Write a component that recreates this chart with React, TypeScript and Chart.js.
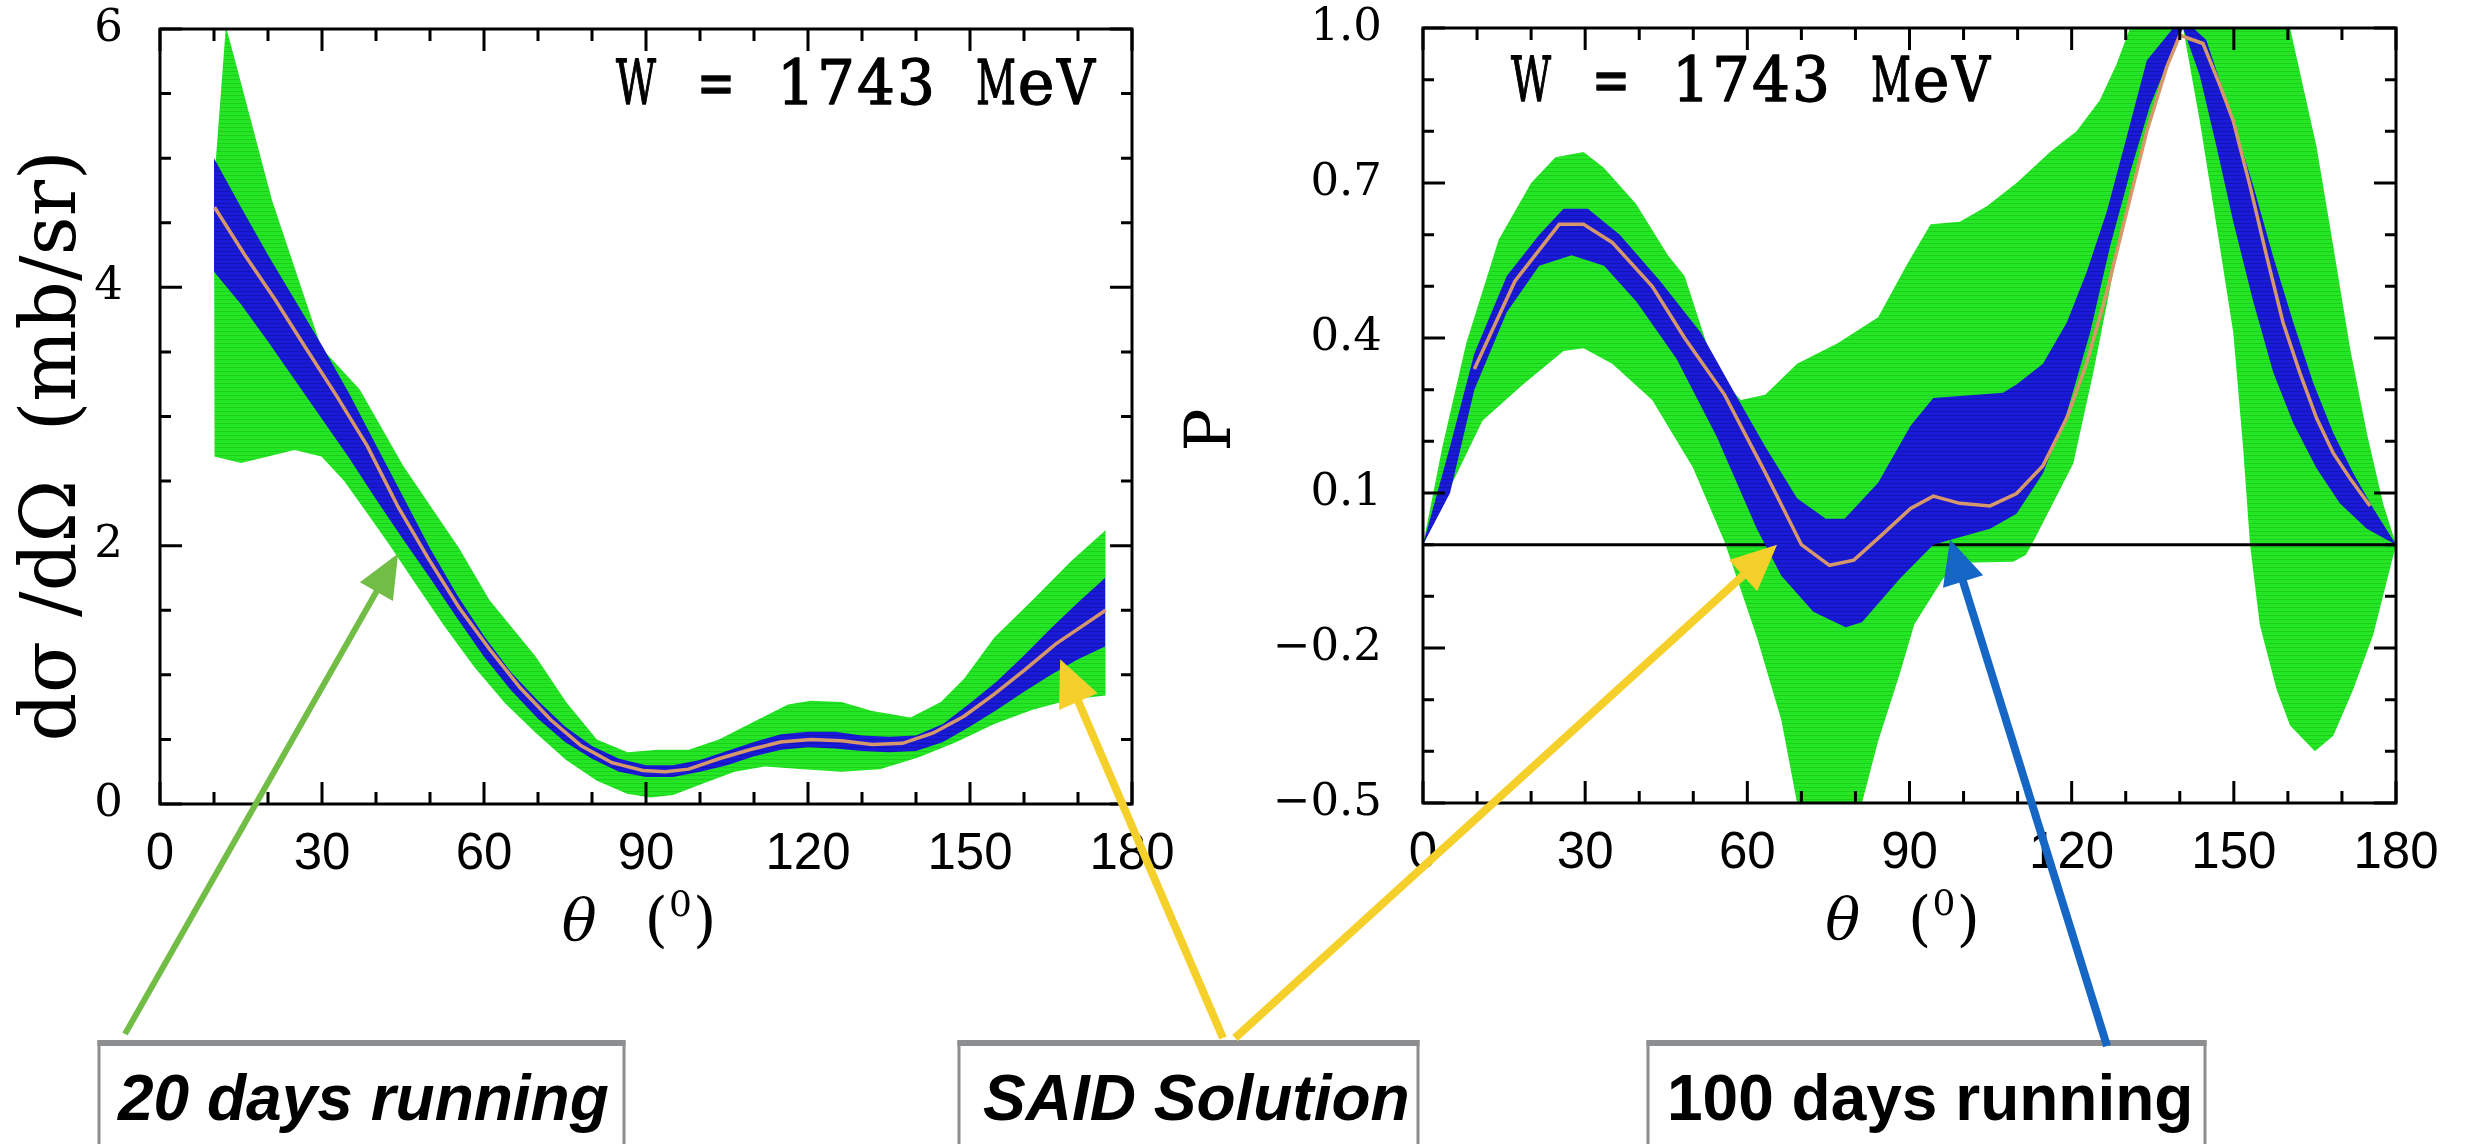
import React, { useEffect, useRef } from 'react';
import { Chart, registerables } from 'chart.js';

Chart.register(...registerables);

const PAGE_W = 2466;
const PAGE_H = 1144;

const SERIF = '"DejaVu Serif", serif';
const SANS = '"Liberation Sans", Arial, sans-serif';

// ---------- axis ticks ----------
const thetaTicks = [0, 30, 60, 90, 120, 150, 180];
const leftYTicks = [0, 2, 4, 6];
const rightYTicks = [-0.5, -0.2, 0.1, 0.4, 0.7, 1.0];

// ---------- left panel: dσ/dΩ, W = 1743 MeV ----------
const leftSaidTheta = [10.1, 15.7, 21.4, 27, 32.7, 38.4, 44.1, 49.7, 55.4, 61, 66.7, 72.4, 78, 83.7, 89.4, 93.6, 97.9, 103.5, 109.2, 114.9, 120.5, 126.2, 131.9, 137.5, 143.2, 148.9, 154.5, 160.2, 165.9, 171.6, 175.1];
const leftSaidValue = [4.62, 4.25, 3.9, 3.53, 3.16, 2.77, 2.3, 1.9, 1.52, 1.2, 0.9, 0.65, 0.45, 0.32, 0.26, 0.25, 0.27, 0.35, 0.42, 0.48, 0.5, 0.49, 0.46, 0.47, 0.55, 0.68, 0.85, 1.04, 1.24, 1.4, 1.5];

const leftBlueTheta = [10, 15, 20, 25, 30, 35, 40, 45, 50, 55, 60, 65, 70, 75, 80, 85, 90, 95, 100, 105, 110, 115, 120, 125, 130, 135, 140, 145, 150, 155, 160, 165, 170, 175];
const leftBlueUpper = [5.0, 4.62, 4.25, 3.9, 3.55, 3.18, 2.78, 2.38, 1.98, 1.62, 1.3, 1.02, 0.8, 0.6, 0.45, 0.35, 0.3, 0.3, 0.34, 0.41, 0.48, 0.54, 0.56, 0.56, 0.53, 0.52, 0.53, 0.62, 0.78, 0.95, 1.15, 1.36, 1.56, 1.75];
const leftBlueLower = [4.12, 3.87, 3.58, 3.28, 2.98, 2.68, 2.36, 2.05, 1.75, 1.44, 1.14, 0.88, 0.66, 0.48, 0.35, 0.25, 0.21, 0.21, 0.25, 0.3, 0.37, 0.42, 0.44, 0.43, 0.41, 0.4, 0.41, 0.48, 0.6, 0.73, 0.87, 1.0, 1.12, 1.22];

const leftGreenUpperTheta = [10, 12.2, 14.2, 20.7, 29.9, 37, 45, 49.7, 55.4, 61, 69.6, 75.2, 80.9, 86.6, 92.2, 97.9, 103.5, 110.6, 116.3, 120.5, 126.2, 131.9, 139, 144.6, 148.9, 154.5, 161.6, 168.7, 175.1];
const leftGreenUpper = [4.8, 6.02, 5.71, 4.68, 3.53, 3.21, 2.62, 2.33, 1.98, 1.58, 1.14, 0.79, 0.5, 0.4, 0.42, 0.42, 0.5, 0.65, 0.77, 0.8, 0.79, 0.72, 0.67, 0.79, 0.97, 1.29, 1.58, 1.88, 2.12];
const leftGreenLowerTheta = [10.1, 15, 20, 24.9, 29.9, 34.1, 38.4, 42.6, 46.9, 52.6, 58.2, 63.9, 69.6, 75.2, 80.9, 86.5, 90.8, 95, 100.7, 106.4, 112, 119.1, 126.2, 133.3, 140.4, 147.5, 154.5, 161.6, 168.7, 175.1];
const leftGreenLower = [2.69, 2.64, 2.69, 2.74, 2.69, 2.5, 2.25, 2.0, 1.73, 1.38, 1.06, 0.78, 0.55, 0.34, 0.18, 0.08, 0.05, 0.07, 0.16, 0.25, 0.29, 0.27, 0.25, 0.27, 0.36, 0.48, 0.62, 0.73, 0.81, 0.84];

// ---------- right panel: P, W = 1743 MeV ----------
const rightSaidTheta = [9.5, 17, 25.2, 29.7, 35, 42.4, 48.4, 55.8, 63.3, 70, 75.2, 79.7, 85, 90.2, 94.4, 99.3, 104.9, 109.8, 114.7, 119.1, 122.8, 126.5, 130.2, 133.9, 137.6, 140, 144.3, 147.4, 149.9, 153, 156.1, 159.1, 162.2, 165.3, 168.4, 171.5, 175.2];
const rightSaidValue = [0.34, 0.51, 0.62, 0.62, 0.585, 0.5, 0.4, 0.29, 0.14, 0.0, -0.04, -0.03, 0.02, 0.07, 0.094, 0.08, 0.075, 0.099, 0.153, 0.245, 0.352, 0.489, 0.645, 0.8, 0.925, 0.986, 0.97, 0.89, 0.82, 0.694, 0.557, 0.43, 0.333, 0.245, 0.177, 0.128, 0.075];

const rightBlueUpperTheta = [0, 5, 9.5, 15.5, 21.5, 26, 30.5, 36.4, 43.9, 51.4, 57.3, 63.3, 69.2, 74.5, 78, 84.2, 90.2, 94.4, 107.3, 109.8, 114.7, 119.1, 122.8, 126.5, 130.2, 133.9, 138.8, 142.5, 144.9, 149.9, 153.6, 157.3, 161, 164.7, 168.4, 172.1, 175.8, 180];
const rightBlueUpper = [0, 0.19, 0.37, 0.52, 0.6, 0.65, 0.65, 0.6, 0.51, 0.41, 0.3, 0.19, 0.09, 0.05, 0.05, 0.12, 0.23, 0.284, 0.294, 0.31, 0.35, 0.43, 0.528, 0.645, 0.79, 0.937, 1.0, 1.0, 0.977, 0.82, 0.694, 0.557, 0.43, 0.313, 0.216, 0.138, 0.07, 0];
const rightBlueLowerTheta = [0, 5, 9.5, 15.5, 21.5, 27.5, 33.5, 39.5, 46.9, 54.3, 61.8, 66.3, 72.2, 78.2, 81.2, 88.2, 94.4, 98.1, 104.9, 109.8, 114.7, 119.1, 123.4, 127.1, 130.8, 134.5, 139.4, 140.6, 143.7, 146.8, 149.9, 153.6, 157.3, 161, 165.3, 169.6, 174.6, 180];
const rightBlueLower = [0, 0.1, 0.3, 0.45, 0.54, 0.56, 0.54, 0.47, 0.36, 0.21, 0.03, -0.06, -0.13, -0.16, -0.15, -0.066, 0.0, 0.011, 0.031, 0.06, 0.138, 0.255, 0.41, 0.577, 0.72, 0.85, 0.975, 1.0, 0.908, 0.77, 0.625, 0.47, 0.333, 0.235, 0.148, 0.08, 0.031, 0];

const rightGreenUpperTheta = [0, 3.6, 8, 14, 20, 24.5, 29.7, 33.4, 39.4, 45.3, 48.4, 54.3, 58.8, 63.3, 69.2, 76.7, 84.2, 89.4, 93.9, 99.3, 104.3, 109.8, 116, 120.9, 125.2, 128.3, 130.8, 133, 158, 160.4, 165.3, 168.4, 171.5, 174.6, 177.6, 180];
const rightGreenUpper = [0, 0.19, 0.39, 0.59, 0.7, 0.75, 0.76, 0.73, 0.66, 0.56, 0.52, 0.33, 0.28, 0.29, 0.35, 0.39, 0.44, 0.54, 0.62, 0.625, 0.655, 0.7, 0.76, 0.8, 0.86, 0.93, 1.0, 1.1, 1.1, 1.0, 0.77, 0.577, 0.38, 0.216, 0.08, 0];
const rightGreenLowerTheta = [0, 5, 11, 18.5, 26, 29.7, 35, 42.4, 49.9, 55.8, 61.8, 66.3, 69.2, 71, 79, 81.2, 84.2, 88.2, 90.9, 96.2, 100, 109.2, 111.5, 112.6, 120.3, 124, 127.7, 132, 135.7, 140.6, 143.7, 147.4, 149.9, 151.7, 153, 154.8, 157.9, 160.4, 165, 168.4, 172.1, 175.8, 180];
const rightGreenLower = [0, 0.11, 0.24, 0.31, 0.375, 0.38, 0.35, 0.28, 0.15, 0.005, -0.18, -0.34, -0.5, -0.56, -0.56, -0.5, -0.38, -0.25, -0.154, -0.066, -0.035, -0.033, -0.02, 0.0, 0.157, 0.333, 0.528, 0.723, 0.87, 1.0, 0.82, 0.577, 0.41, 0.19, 0.0, -0.155, -0.28, -0.35, -0.4, -0.37, -0.28, -0.174, 0];

const zeroLineTheta = [0, 180];
const zeroLineP = [0, 0];

// ---------- annotation targets (data coordinates) ----------
const greenArrowTip = { theta: 44.1, value: 1.94 };
const yellowLeftTip = { theta: 166.7, value: 1.12 };
const yellowRightTip = { theta: 65.5, value: 0.0 };
const blueArrowTip = { theta: 97.5, value: 0.01 };

const energyLabel = 'W = 1743 MeV';

const boxes = [
  { x0: 99, x1: 624, text: '20 days running', italic: true, tx: 118 },
  { x0: 959, x1: 1418, text: 'SAID Solution', italic: true, tx: 983 },
  { x0: 1648, x1: 2205, text: '100 days running', italic: false, tx: 1667 },
];

const zip = (xs: number[], ys: number[]) => xs.map((x, i) => ({ x, y: ys[i] }));
const band = (ux: number[], uy: number[], lx: number[], ly: number[]) => [
  ...zip(ux, uy),
  ...zip(lx, ly).reverse(),
];

function stripes(base: string, dark: string): any {
  const c = document.createElement('canvas');
  c.width = 4;
  c.height = 4;
  const g = c.getContext('2d')!;
  g.fillStyle = base;
  g.fillRect(0, 0, 4, 4);
  g.fillStyle = dark;
  g.fillRect(0, 3, 4, 1);
  return g.createPattern(c, 'repeat');
}

function framePlugin(xMinor: number, yMinor: number, xMajor: number[], yMajor: number[]) {
  return {
    id: 'frameTicks',
    afterDatasetsDraw(chart: any) {
      const { ctx, chartArea: a, scales } = chart;
      const x = scales.x;
      const y = scales.y;
      const isMajor = (v: number, arr: number[]) => arr.some((m) => Math.abs(m - v) < 1e-6);
      ctx.save();
      ctx.strokeStyle = '#000';
      ctx.lineWidth = 3;
      ctx.lineCap = 'butt';
      ctx.beginPath();
      const nx = Math.round((x.max - x.min) / xMinor);
      for (let i = 0; i <= nx; i++) {
        const v = x.min + i * xMinor;
        const len = isMajor(v, xMajor) ? 22 : 12;
        const px = x.getPixelForValue(v);
        ctx.moveTo(px, a.bottom);
        ctx.lineTo(px, a.bottom - len);
        ctx.moveTo(px, a.top);
        ctx.lineTo(px, a.top + len);
      }
      const ny = Math.round((y.max - y.min) / yMinor);
      for (let i = 0; i <= ny; i++) {
        const v = y.min + i * yMinor;
        const len = isMajor(v, yMajor) ? 22 : 11;
        const py = y.getPixelForValue(v);
        ctx.moveTo(a.left, py);
        ctx.lineTo(a.left + len, py);
        ctx.moveTo(a.right, py);
        ctx.lineTo(a.right - len, py);
      }
      ctx.stroke();
      ctx.strokeRect(a.left, a.top, a.right - a.left, a.bottom - a.top);
      ctx.restore();
    },
  };
}

// typewriter-style label: serif glyphs on a fixed pitch
function drawTypewriter(ctx: CanvasRenderingContext2D, text: string, x0: number, base: number, pitch: number, size: number) {
  ctx.save();
  ctx.font = `${size}px ${SERIF}`;
  ctx.textAlign = 'center';
  ctx.textBaseline = 'alphabetic';
  ctx.fillStyle = '#000';
  ctx.strokeStyle = '#000';
  ctx.lineWidth = 1.3;
  ctx.lineJoin = 'round';
  for (let i = 0; i < text.length; i++) {
    const ch = text[i];
    if (ch === ' ') continue;
    const w = ctx.measureText(ch).width;
    const maxW = (ch === 'W' || ch === 'M' ? 1.0 : 0.95) * pitch;
    const s = Math.min(1, maxW / w);
    ctx.save();
    ctx.translate(x0 + i * pitch + pitch / 2, base);
    ctx.scale(s, 1);
    ctx.fillText(ch, 0, 0);
    ctx.strokeText(ch, 0, 0);
    ctx.restore();
  }
  ctx.restore();
}

type YTitle = { text: string; size: number; cx: number; cy: number };

function textPlugin(energyFromLeft: boolean, energyDx: number, energyDy: number, yTitle: YTitle) {
  return {
    id: 'panelText',
    afterDraw(chart: any) {
      const { ctx, chartArea: a } = chart;
      ctx.save();
      ctx.fillStyle = '#000';
      // energy label
      const pitch = 40;
      const ex = energyFromLeft ? a.left + energyDx : a.right - energyDx - energyLabel.length * pitch;
      drawTypewriter(ctx, energyLabel, ex, a.top + energyDy, pitch, 62);
      // x-axis title: θ (0)
      ctx.textAlign = 'left';
      ctx.textBaseline = 'alphabetic';
      ctx.font = `italic 58px ${SERIF}`;
      const wt = ctx.measureText('θ').width;
      ctx.font = `60px ${SERIF}`;
      const wpar = ctx.measureText('(').width;
      ctx.font = `36px ${SERIF}`;
      const wz = ctx.measureText('0').width;
      const wp = wpar * 2 + wz + 2;
      const gap = 48;
      const cx = (a.left + a.right) / 2 - 7;
      const x0 = cx - (wt + gap + wp) / 2;
      const base = a.bottom + 136;
      ctx.font = `italic 58px ${SERIF}`;
      ctx.fillText('θ', x0, base);
      const xp = x0 + wt + gap;
      ctx.font = `60px ${SERIF}`;
      ctx.fillText('(', xp, base);
      ctx.fillText(')', xp + wpar + wz + 2, base);
      ctx.font = `36px ${SERIF}`;
      ctx.fillText('0', xp + wpar + 1, base - 24);
      // y-axis title (rotated)
      ctx.save();
      ctx.translate(yTitle.cx, yTitle.cy);
      ctx.rotate(-Math.PI / 2);
      ctx.font = `${yTitle.size}px ${SERIF}`;
      ctx.textAlign = 'center';
      ctx.textBaseline = 'middle';
      ctx.fillText(yTitle.text, 0, 0);
      ctx.restore();
      ctx.restore();
    },
  };
}

function drawArrow(
  ctx: CanvasRenderingContext2D,
  x0: number, y0: number, x1: number, y1: number,
  color: string, width: number, headLen: number, headHalf: number,
) {
  const dx = x1 - x0;
  const dy = y1 - y0;
  const L = Math.hypot(dx, dy);
  const ux = dx / L;
  const uy = dy / L;
  const bx = x1 - ux * headLen;
  const by = y1 - uy * headLen;
  ctx.save();
  ctx.strokeStyle = color;
  ctx.fillStyle = color;
  ctx.lineWidth = width;
  ctx.lineCap = 'butt';
  ctx.beginPath();
  ctx.moveTo(x0, y0);
  ctx.lineTo(bx + ux * 2, by + uy * 2);
  ctx.stroke();
  ctx.beginPath();
  ctx.moveTo(x1, y1);
  ctx.lineTo(bx - uy * headHalf, by + ux * headHalf);
  ctx.lineTo(bx + uy * headHalf, by - ux * headHalf);
  ctx.closePath();
  ctx.fill();
  ctx.restore();
}

function drawOverlay(canvas: HTMLCanvasElement, left: any, right: any) {
  const ctx = canvas.getContext('2d')!;
  ctx.clearRect(0, 0, canvas.width, canvas.height);
  for (const b of boxes) {
    ctx.fillStyle = '#fff';
    ctx.fillRect(b.x0, 1040, b.x1 - b.x0, PAGE_H - 1040 + 10);
    ctx.strokeStyle = '#8d8e90';
    ctx.lineWidth = 3;
    ctx.beginPath();
    ctx.moveTo(b.x0, 1040);
    ctx.lineTo(b.x0, PAGE_H + 5);
    ctx.moveTo(b.x1, 1040);
    ctx.lineTo(b.x1, PAGE_H + 5);
    ctx.stroke();
    ctx.fillStyle = '#8d8e90';
    ctx.fillRect(b.x0 - 1.5, 1040, b.x1 - b.x0 + 3, 6);
    ctx.fillStyle = '#000';
    ctx.font = `${b.italic ? 'italic ' : ''}bold 64px ${SANS}`;
    ctx.textAlign = 'left';
    ctx.textBaseline = 'alphabetic';
    ctx.fillText(b.text, b.tx, 1120);
  }
  const lx = left.scales.x;
  const ly = left.scales.y;
  const rx = right.scales.x;
  const ry = right.scales.y;
  drawArrow(ctx, 125, 1034, lx.getPixelForValue(greenArrowTip.theta), ly.getPixelForValue(greenArrowTip.value), '#72bd46', 6, 44, 19);
  drawArrow(ctx, 1223, 1038, lx.getPixelForValue(yellowLeftTip.theta), ly.getPixelForValue(yellowLeftTip.value), '#f5d02a', 8, 46, 21);
  drawArrow(ctx, 1235, 1038, rx.getPixelForValue(yellowRightTip.theta), ry.getPixelForValue(yellowRightTip.value), '#f5d02a', 8, 46, 21);
  drawArrow(ctx, 2107, 1046, rx.getPixelForValue(blueArrowTip.theta), ry.getPixelForValue(blueArrowTip.value), '#1666c5', 8, 44, 21);
}

const fmtRight = (v: number) => v.toFixed(1).replace('-', '\u2212');

export default function App() {
  const leftRef = useRef<HTMLCanvasElement>(null);
  const rightRef = useRef<HTMLCanvasElement>(null);
  const overRef = useRef<HTMLCanvasElement>(null);

  useEffect(() => {
    const greenFill = stripes('#24e624', '#1dcf1d');
    const blueFill = stripes('#1a1ad9', '#1414b4');
    const orange = '#d6986b';

    const bandDs = (data: any[], fill: any) => ({
      data,
      borderWidth: 0,
      pointRadius: 0,
      pointHoverRadius: 0,
      tension: 0,
      fill: 'shape',
      backgroundColor: fill,
    });
    const lineDs = (data: any[], color: string, width: number) => ({
      data,
      borderColor: color,
      borderWidth: width,
      pointRadius: 0,
      pointHoverRadius: 0,
      tension: 0,
      fill: false,
    });

    const commonX = () => ({
      type: 'linear',
      min: 0,
      max: 180,
      grid: { display: false, drawTicks: true, tickLength: 20 },
      border: { display: false },
      afterBuildTicks: (s: any) => {
        s.ticks = thetaTicks.map((v) => ({ value: v }));
      },
      afterFit: (s: any) => {
        s.height = 150;
      },
      ticks: {
        font: { family: SANS, size: 51 },
        color: '#000',
        padding: 0,
        maxRotation: 0,
        autoSkip: false,
      },
    });

    const left = new Chart(leftRef.current!, {
      type: 'line',
      data: {
        datasets: [
          lineDs(zip(leftSaidTheta, leftSaidValue), orange, 3.5),
          bandDs(band(leftBlueTheta, leftBlueUpper, leftBlueTheta, leftBlueLower), blueFill),
          bandDs(band(leftGreenUpperTheta, leftGreenUpper, leftGreenLowerTheta, leftGreenLower), greenFill),
        ] as any,
      },
      options: {
        responsive: false,
        animation: false,
        devicePixelRatio: 1,
        layout: { padding: { left: 0, top: 29, right: PAGE_W - 1132, bottom: 190 } },
        plugins: { legend: { display: false }, tooltip: { enabled: false } },
        scales: {
          x: commonX() as any,
          y: {
            type: 'linear',
            min: 0,
            max: 6,
            grid: { display: false, drawTicks: true, tickLength: 37 },
            border: { display: false },
            afterBuildTicks: (s: any) => {
              s.ticks = leftYTicks.map((v) => ({ value: v }));
            },
            afterFit: (s: any) => {
              s.width = 160;
            },
            ticks: {
              font: { family: SERIF, size: 45 },
              color: '#000',
              padding: 0,
              autoSkip: false,
              callback: (v: any) => String(v),
            },
          } as any,
        },
      },
      plugins: [
        framePlugin(10, 0.5, thetaTicks, leftYTicks),
        textPlugin(false, 36, 75, { text: 'dσ /dΩ  (mb/sr)', size: 76, cx: 55, cy: 446 }),
      ],
    });

    const right = new Chart(rightRef.current!, {
      type: 'line',
      data: {
        datasets: [
          lineDs(zip(rightSaidTheta, rightSaidValue), orange, 3.5),
          bandDs(band(rightBlueUpperTheta, rightBlueUpper, rightBlueLowerTheta, rightBlueLower), blueFill),
          lineDs(zip(zeroLineTheta, zeroLineP), '#000', 3),
          bandDs(band(rightGreenUpperTheta, rightGreenUpper, rightGreenLowerTheta, rightGreenLower), greenFill),
        ] as any,
      },
      options: {
        responsive: false,
        animation: false,
        devicePixelRatio: 1,
        layout: { padding: { left: 1150, top: 28, right: PAGE_W - 2396, bottom: 191 } },
        plugins: { legend: { display: false }, tooltip: { enabled: false } },
        scales: {
          x: commonX() as any,
          y: {
            type: 'linear',
            min: -0.5,
            max: 1.0,
            grid: { display: false, drawTicks: true, tickLength: 41 },
            border: { display: false },
            afterBuildTicks: (s: any) => {
              s.ticks = rightYTicks.map((v) => ({ value: v }));
            },
            afterFit: (s: any) => {
              s.width = 273;
            },
            ticks: {
              font: { family: SERIF, size: 45 },
              color: '#000',
              padding: 0,
              autoSkip: false,
              callback: (v: any) => fmtRight(Number(v)),
            },
          } as any,
        },
      },
      plugins: [
        framePlugin(10, 0.1, thetaTicks, rightYTicks),
        textPlugin(true, 88, 73, { text: 'P', size: 64, cx: 1213, cy: 430 }),
      ],
    });

    drawOverlay(overRef.current!, left, right);

    return () => {
      left.destroy();
      right.destroy();
    };
  }, []);

  const cstyle: React.CSSProperties = {
    position: 'absolute',
    left: 0,
    top: 0,
    width: PAGE_W,
    height: PAGE_H,
  };

  return (
    <div
      style={{
        position: 'absolute',
        left: 0,
        top: 0,
        width: PAGE_W,
        height: PAGE_H,
        overflow: 'hidden',
        background: '#fff',
      }}
    >
      <canvas ref={leftRef} width={PAGE_W} height={PAGE_H} style={cstyle} />
      <canvas ref={rightRef} width={PAGE_W} height={PAGE_H} style={cstyle} />
      <canvas ref={overRef} width={PAGE_W} height={PAGE_H} style={{ ...cstyle, pointerEvents: 'none' }} />
    </div>
  );
}
